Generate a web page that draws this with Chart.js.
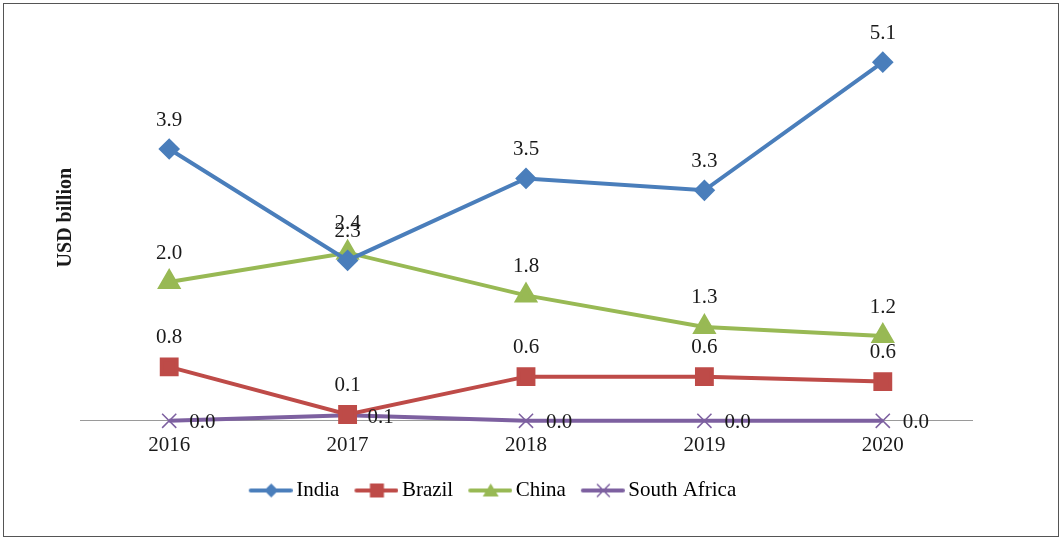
<!DOCTYPE html>
<html>
<head>
<meta charset="utf-8">
<script src="https://cdn.jsdelivr.net/npm/chart.js@4/dist/chart.umd.min.js"></script>
<style>
  html, body { margin: 0; padding: 0; background: #fff; }
  #wrap { position: relative; width: 1062px; height: 540px; }
  #frame { position: absolute; left: 3px; top: 3px; width: 1054px; height: 532px; border: 1px solid #555; pointer-events: none; }
  canvas { position: absolute; left: 0; top: 0; }
</style>
</head>
<body>
<div id="wrap">
  <canvas id="chart" width="1062" height="540"></canvas>
  <div id="frame"></div>
</div>
<script>
// data (USD billion)
const years = ['2016', '2017', '2018', '2019', '2020'];
const india = [3.88, 2.29, 3.46, 3.29, 5.12];
const brazil = [0.77, 0.09, 0.63, 0.63, 0.56];
const china = [1.98, 2.40, 1.79, 1.34, 1.21];
const southAfrica = [0.0, 0.08, 0.0, 0.0, 0.0];

const FONT = "'Liberation Serif', 'Times New Roman', serif";

// legend icon: short line with the marker in the middle
// (48px wide, drawn centred on a 34px legend box, so it sits close to the text)
function legendIcon(color, shape) {
    const c = document.createElement('canvas');
    c.width = 48; c.height = 18;
    const g = c.getContext('2d');
    const m = 26.5;
    g.strokeStyle = color;
    g.fillStyle = color;
    g.lineWidth = 4;
    g.lineCap = 'round';
    g.beginPath(); g.moveTo(6, 9); g.lineTo(46, 9); g.stroke();
    g.beginPath();
    if (shape === 'rectRot') {
        g.moveTo(m, 2); g.lineTo(m + 7, 9); g.lineTo(m, 16); g.lineTo(m - 7, 9); g.closePath(); g.fill();
    } else if (shape === 'rect') {
        g.fillRect(m - 7, 2, 14, 14);
    } else if (shape === 'triangle') {
        g.moveTo(m, 2); g.lineTo(m + 8, 15); g.lineTo(m - 8, 15); g.closePath(); g.fill();
    } else {
        g.lineWidth = 1.5;
        g.moveTo(m - 6, 3); g.lineTo(m + 6, 15); g.moveTo(m + 6, 3); g.lineTo(m - 6, 15); g.stroke();
    }
    return c;
}

// value labels: above the point, or to the right for South Africa
const valueLabels = {
    id: 'valueLabels',
    afterDatasetsDraw(chart) {
        const ctx = chart.ctx;
        ctx.save();
        ctx.font = '21px ' + FONT;
        ctx.fillStyle = '#1a1a1a';
        ctx.textBaseline = 'middle';
        chart.data.datasets.forEach((ds, i) => {
            const meta = chart.getDatasetMeta(i);
            meta.data.forEach((pt, j) => {
                const txt = ds.data[j].toFixed(1);
                if (ds.labelSide === 'right') {
                    ctx.textAlign = 'left';
                    ctx.fillText(txt, pt.x + 20, pt.y + 2);
                } else {
                    ctx.textAlign = 'center';
                    ctx.fillText(txt, pt.x, pt.y - 29);
                }
            });
        });
        ctx.restore();
    }
};

const ctx = document.getElementById('chart').getContext('2d');

const chart = new Chart(ctx, {
    type: 'line',
    data: {
        labels: years,
        datasets: [
            {
                label: 'India',
                data: india,
                borderColor: '#4a7ebb',
                backgroundColor: '#4a7ebb',
                pointStyle: 'rectRot',
                pointRadius: 8,
                icon: legendIcon('#4a7ebb', 'rectRot')
            },
            {
                label: 'Brazil',
                data: brazil,
                borderColor: '#be4b48',
                backgroundColor: '#be4b48',
                pointStyle: 'rect',
                pointRadius: 10.5,
                icon: legendIcon('#be4b48', 'rect')
            },
            {
                label: 'China',
                data: china,
                borderColor: '#98b954',
                backgroundColor: '#98b954',
                pointStyle: 'triangle',
                pointRadius: 10,
                icon: legendIcon('#98b954', 'triangle')
            },
            {
                label: 'South Africa',
                data: southAfrica,
                borderColor: '#7d60a0',
                backgroundColor: '#7d60a0',
                pointStyle: 'crossRot',
                pointRadius: 10,
                pointBorderWidth: 1.5,
                labelSide: 'right',
                icon: legendIcon('#7d60a0', 'cross')
            }
        ]
    },
    options: {
        responsive: false,
        animation: false,
        datasets: {
            line: {
                borderWidth: 4,
                tension: 0,
                fill: false,
                clip: false
            }
        },
        layout: {
            padding: { left: 16, right: 90, top: 0, bottom: 29 }
        },
        scales: {
            x: {
                offset: true,
                grid: { display: false, drawTicks: false, offset: true },
                border: { display: true, color: '#9a9a9a', width: 1 },
                ticks: {
                    color: '#1a1a1a',
                    padding: 12,
                    font: { family: FONT, size: 21 }
                },
                afterFit(scale) {
                    scale.height -= 8;
                }
            },
            y: {
                min: 0,
                max: 5.8,
                grid: { display: false, drawTicks: false },
                border: { display: false },
                ticks: { display: false },
                title: {
                    display: true,
                    text: 'USD billion',
                    color: '#1a1a1a',
                    font: { family: FONT, size: 20, weight: 'bold' },
                    padding: { top: 38, bottom: 0 }
                },
                afterFit(scale) {
                    scale.width = 64;
                }
            }
        },
        plugins: {
            legend: {
                position: 'bottom',
                labels: {
                    usePointStyle: true,
                    pointStyleWidth: 34,
                    padding: 18,
                    color: '#1a1a1a',
                    font: { family: FONT, size: 21 },
                    generateLabels(chart) {
                        return chart.data.datasets.map((ds, i) => ({
                            text: ds.label,
                            pointStyle: ds.icon,
                            fillStyle: ds.borderColor,
                            strokeStyle: ds.borderColor,
                            lineWidth: 0,
                            hidden: false,
                            datasetIndex: i
                        }));
                    }
                }
            },
            tooltip: { enabled: false }
        }
    },
    plugins: [valueLabels]
});
</script>
</body>
</html>
